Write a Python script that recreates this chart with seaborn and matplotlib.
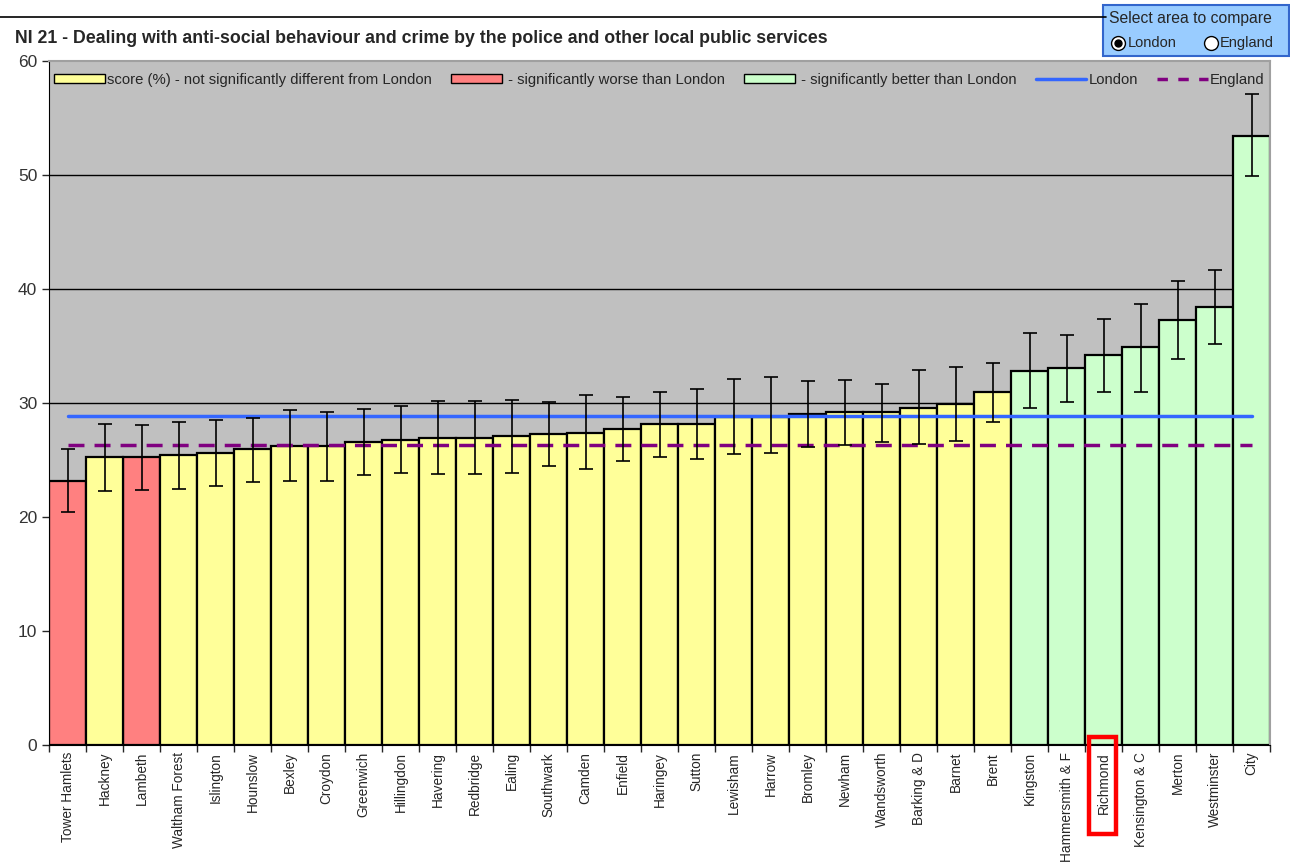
import numpy as np
import pandas as pd
import seaborn as sns
import matplotlib.pyplot as plt
from matplotlib.patches import Patch, Rectangle
from matplotlib.lines import Line2D

# boroughs, sorted by score
names = ['Tower Hamlets', 'Hackney', 'Lambeth', 'Waltham Forest', 'Islington', 'Hounslow',
         'Bexley', 'Croydon', 'Greenwich', 'Hillingdon', 'Havering', 'Redbridge', 'Ealing',
         'Southwark', 'Camden', 'Enfield', 'Haringey', 'Sutton', 'Lewisham', 'Harrow',
         'Bromley', 'Newham', 'Wandsworth', 'Barking & D', 'Barnet', 'Brent', 'Kingston',
         'Hammersmith & F', 'Richmond', 'Kensington & C', 'Merton', 'Westminster', 'City']
scores = [23.2, 25.3, 25.3, 25.4, 25.65, 26.0, 26.25, 26.25, 26.6, 26.8, 26.9, 26.95, 27.15,
          27.3, 27.4, 27.7, 28.2, 28.2, 28.8, 28.8, 29.05, 29.2, 29.2, 29.6, 29.95, 31.0,
          32.8, 33.1, 34.25, 34.9, 37.3, 38.45, 53.45]
lower = [20.4, 22.3, 22.4, 22.5, 22.75, 23.1, 23.2, 23.2, 23.65, 23.9, 23.8, 23.8, 23.9,
         24.5, 24.2, 24.95, 25.3, 25.05, 25.5, 25.65, 26.1, 26.3, 26.6, 26.4, 26.7, 28.3,
         29.6, 30.1, 31.0, 31.0, 33.9, 35.2, 49.9]
upper = [26.0, 28.2, 28.1, 28.3, 28.5, 28.7, 29.35, 29.2, 29.5, 29.7, 30.2, 30.2, 30.3,
         30.05, 30.7, 30.5, 31.0, 31.2, 32.1, 32.3, 31.95, 32.0, 31.7, 32.9, 33.2, 33.5,
         36.1, 36.0, 37.4, 38.7, 40.7, 41.7, 57.1]
status = ['worse', 'same', 'worse'] + ['same'] * 23 + ['better'] * 7
london = 28.9
england = 26.3

colors = {'same': '#FFFF99', 'worse': '#FF8080', 'better': '#CCFFCC'}

df = pd.DataFrame({'area': names, 'score': scores, 'status': status})

sns.set_style('white')
plt.rcParams['font.family'] = ['Liberation Sans', 'DejaVu Sans']

fig = plt.figure(figsize=(12.9, 8.67), dpi=100)
ax = fig.add_axes([0.038, 0.1407, 0.9465, 0.7889])
ax.set_facecolor('#C0C0C0')

for v in range(10, 60, 10):
    ax.axhline(v, color='black', lw=1, zorder=0)

sns.barplot(data=df, x='area', y='score', hue='status', order=names, palette=colors,
            dodge=False, width=1.0, saturation=1, edgecolor='black', linewidth=1.6,
            legend=False, zorder=2, ax=ax)

pos = np.arange(len(names))
sc = np.array(scores)
ax.errorbar(pos, sc, yerr=[sc - np.array(lower), np.array(upper) - sc], fmt='none',
            ecolor='black', elinewidth=1.2, capsize=5, capthick=1.2, zorder=4)

ax.plot(pos, [london] * len(pos), color='#3366FF', lw=2.5, zorder=3)
ax.plot(pos, [england] * len(pos), color='#800080', lw=2.5, dashes=(4.6, 2.9), zorder=3)

ax.set_xlim(-0.5, len(names) - 0.5)
ax.set_ylim(0, 60)
ax.set_yticks(range(0, 61, 10))
ax.set_xlabel('')
ax.set_ylabel('')
ax.tick_params(axis='y', labelsize=12.5, length=5, width=1, direction='out', left=True,
               labelcolor='#333333')
ax.set_xticks(pos)
ax.set_xticklabels(names, rotation=90, fontsize=9.8)
ax.tick_params(axis='x', length=0, pad=5)
ax.set_xticks(np.arange(-0.5, len(names), 1), minor=True)
ax.tick_params(axis='x', which='minor', length=5, width=1, bottom=True, direction='out')

for side in ['top', 'right']:
    ax.spines[side].set_color('#A0A0A0')
    ax.spines[side].set_linewidth(1.5)
ax.spines['left'].set_color('black')
ax.spines['bottom'].set_color('black')

# red box around Richmond
ri = names.index('Richmond')
ax.add_patch(Rectangle((ri - 0.39, -0.130), 0.73, 0.142, transform=ax.get_xaxis_transform(),
                       facecolor='none', edgecolor='red', lw=3.2, clip_on=False, zorder=6))

handles = [
    Patch(facecolor=colors['same'], edgecolor='black'),
    Patch(facecolor=colors['worse'], edgecolor='black'),
    Patch(facecolor=colors['better'], edgecolor='black'),
    Line2D([], [], color='#3366FF', lw=2.5),
    Line2D([], [], color='#800080', lw=2.5, dashes=(3, 3)),
]
labels = ['score (%) - not significantly different from London',
          ' - significantly worse than London',
          ' - significantly better than London',
          'London', 'England']
ax.legend(handles, labels, loc='upper center', bbox_to_anchor=(0.5, 1.0), ncol=5,
          frameon=False, fontsize=10.7, handlelength=3.4, handleheight=0.55,
          handletextpad=0.15, columnspacing=1.3, borderaxespad=0.4)

fig.text(0.012, 0.956, 'NI 21 - Dealing with anti-social behaviour and crime by the police '
         'and other local public services', fontsize=12.8, fontweight='bold', va='center')

fig.add_artist(Line2D([0, 0.857], [0.980, 0.980], color='black', lw=1.2))

# "Select area to compare" box
fig.add_artist(Rectangle((0.855, 0.935), 0.144, 0.059, facecolor='#99CCFF',
                         edgecolor='#3366CC', lw=1.5))
fig.text(0.860, 0.979, 'Select area to compare', fontsize=11.3, va='center')
fig.add_artist(Line2D([0.8665], [0.950], marker='o', markersize=10, markerfacecolor='white',
                      markeredgecolor='black'))
fig.add_artist(Line2D([0.8665], [0.950], marker='o', markersize=5, color='black'))
fig.text(0.8745, 0.950, 'London', fontsize=10.5, va='center')
fig.add_artist(Line2D([0.9385], [0.950], marker='o', markersize=10, markerfacecolor='white',
                      markeredgecolor='black'))
fig.text(0.9455, 0.950, 'England', fontsize=10.5, va='center')

fig.savefig('out.png', dpi=100)
